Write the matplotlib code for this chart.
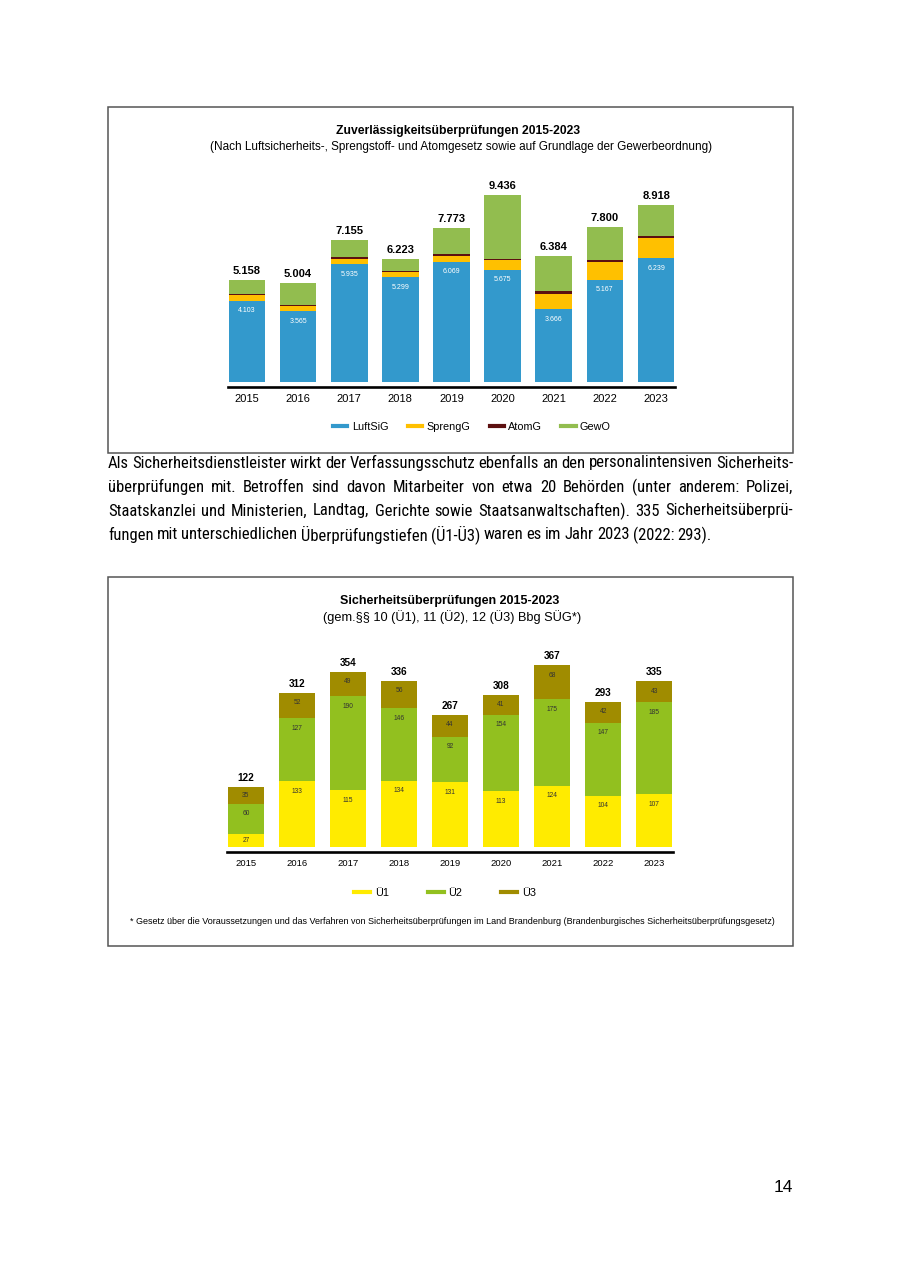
import numpy as np
import matplotlib
matplotlib.use("Agg")
import matplotlib.pyplot as plt
from matplotlib import font_manager as fm
from matplotlib.patches import Rectangle
from matplotlib.lines import Line2D

# --- data: Zuverlässigkeitsüberprüfungen ---
years = ["2015", "2016", "2017", "2018", "2019", "2020", "2021", "2022", "2023"]
luftsig = [4103, 3565, 5935, 5299, 6069, 5675, 3666, 5167, 6239]
sprengg = [300, 250, 290, 235, 300, 470, 775, 893, 1050]
atomg = [50, 50, 90, 80, 80, 80, 150, 100, 90]
totals_z = [5158, 5004, 7155, 6223, 7773, 9436, 6384, 7800, 8918]
gewo = [t - a - b - c for t, a, b, c in zip(totals_z, luftsig, sprengg, atomg)]

# --- data: Sicherheitsüberprüfungen ---
ue1 = [27, 133, 115, 134, 131, 113, 124, 104, 107]
ue2 = [60, 127, 190, 146, 92, 154, 175, 147, 185]
ue3 = [35, 52, 49, 56, 44, 41, 68, 42, 43]
totals_s = [122, 312, 354, 336, 267, 308, 367, 293, 335]

paragraph = [
    "Als Sicherheitsdienstleister wirkt der Verfassungsschutz ebenfalls an den personalintensiven Sicherheits-",
    "überprüfungen mit. Betroffen sind davon Mitarbeiter von etwa 20 Behörden (unter anderem: Polizei,",
    "Staatskanzlei und Ministerien, Landtag, Gerichte sowie Staatsanwaltschaften). 335 Sicherheitsüberprü-",
    "fungen mit unterschiedlichen Überprüfungstiefen (Ü1-Ü3) waren es im Jahr 2023 (2022: 293).",
]

W, H = 900, 1273
plt.rcParams['font.family'] = ['Liberation Sans', 'DejaVu Sans']
fig = plt.figure(figsize=(W / 100, H / 100), dpi=100)
fig.patch.set_facecolor('white')


def fx(x):
    return x / W


def fy(y):
    return 1 - y / H


def px_axes(left, top, right, bottom):
    return fig.add_axes([fx(left), fy(bottom), (right - left) / W, (bottom - top) / H])


def de(v):
    return f"{v:,}".replace(",", ".")


def narrow_font():
    # the body text is set in a narrow sans; take one if any is installed
    for fam in ['Liberation Sans Narrow', 'Arial Narrow', 'Roboto Condensed',
                'Open Sans Condensed', 'Noto Sans Condensed', 'DejaVu Sans Condensed']:
        try:
            fm.findfont(fm.FontProperties(family=fam), fallback_to_default=False)
            return fam, 'normal'
        except ValueError:
            pass
    for fam in ['Noto Sans', 'Open Sans', 'Roboto', 'DejaVu Sans']:
        try:
            f = fm.findfont(fm.FontProperties(family=fam, stretch='condensed'), fallback_to_default=False)
            if 'ondensed' in f or 'Narrow' in f:
                return fam, 'condensed'
        except ValueError:
            pass
    return 'Liberation Sans', 'normal'


# frames around the charts
for top, bot in [(107, 453), (577, 946)]:
    fig.patches.append(Rectangle((fx(107.5), fy(bot)), (793 - 107.5) / W, (bot - top) / H,
                                 transform=fig.transFigure, fill=False,
                                 edgecolor='#555555', linewidth=1.1))

x = np.arange(len(years))
bw = 0.72

# ---------- chart 1 ----------
ax1 = px_axes(228, 174, 675, 387)
c_luft, c_spr, c_atom, c_gew = '#3399CC', '#FFC000', '#5C1010', '#92BD4F'
bottom = np.zeros(len(years))
for vals, col in [(luftsig, c_luft), (sprengg, c_spr), (atomg, c_atom), (gewo, c_gew)]:
    ax1.bar(x, vals, bw, bottom=bottom, color=col, linewidth=0)
    bottom += np.array(vals)
for i in range(len(years)):
    ax1.annotate(de(luftsig[i]), (x[i], luftsig[i]), xytext=(0, -10), textcoords='offset pixels',
                 ha='center', va='center', fontsize=5, color='white')
    ax1.annotate(de(totals_z[i]), (x[i], totals_z[i]), xytext=(0, 9), textcoords='offset pixels',
                 ha='center', va='center', fontsize=8, fontweight='bold', color='black')
ax1.set_xlim(-0.37, 8.37)
ax1.set_ylim(-250, 10500)

# ---------- chart 2 ----------
ax2 = px_axes(227, 649, 673, 852)
c1, c2, c3 = '#FFEB00', '#92C01F', '#A08C00'
bottom = np.zeros(len(years))
for vals, col in [(ue1, c1), (ue2, c2), (ue3, c3)]:
    ax2.bar(x, vals, bw, bottom=bottom, color=col, linewidth=0)
    for i, v in enumerate(vals):
        seg_h_px = v / 2.02
        off = min(10, seg_h_px / 2)
        ax2.annotate(str(v), (x[i], bottom[i] + v), xytext=(0, -off), textcoords='offset pixels',
                     ha='center', va='center', fontsize=4.8, color='#333333')
    bottom += np.array(vals)
for i in range(len(years)):
    ax2.annotate(str(totals_s[i]), (x[i], totals_s[i]), xytext=(0, 9), textcoords='offset pixels',
                 ha='center', va='center', fontsize=7.2, fontweight='bold', color='black')
ax2.set_xlim(-0.37, 8.37)
ax2.set_ylim(-10, 400)

for ax, fs in [(ax1, 8), (ax2, 6.8)]:
    for s in ['top', 'right', 'left']:
        ax.spines[s].set_visible(False)
    ax.spines['bottom'].set_linewidth(1.9)
    ax.spines['bottom'].set_color('black')
    ax.set_yticks([])
    ax.set_xticks(x)
    ax.set_xticklabels(years, fontsize=fs)
    ax.tick_params(axis='x', length=0, pad=5)
    ax.set_facecolor('none')

# titles
fig.text(fx(458), fy(131), "Zuverlässigkeitsüberprüfungen 2015-2023", ha='center', va='center',
         fontsize=8.7, fontweight='bold')
fig.text(fx(461), fy(147), "(Nach Luftsicherheits-, Sprengstoff- und Atomgesetz sowie auf Grundlage der Gewerbeordnung)",
         ha='center', va='center', fontsize=8.5)
fig.text(fx(450), fy(601), "Sicherheitsüberprüfungen 2015-2023", ha='center', va='center',
         fontsize=9.0, fontweight='bold')
fig.text(fx(452), fy(617), "(gem.§§ 10 (Ü1), 11 (Ü2), 12 (Ü3) Bbg SÜG*)", ha='center', va='center', fontsize=9.2)

# legends
h1 = [Line2D([], [], color=c, lw=3) for c in [c_luft, c_spr, c_atom, c_gew]]
fig.legend(h1, ["LuftSiG", "SprengG", "AtomG", "GewO"], loc='center', bbox_to_anchor=(fx(472), fy(427)),
           ncol=4, frameon=False, fontsize=7.8, handlelength=1.3, handletextpad=0.4, columnspacing=1.8)
h2 = [Line2D([], [], color=c, lw=3) for c in [c1, c2, c3]]
fig.legend(h2, ["Ü1", "Ü2", "Ü3"], loc='center', bbox_to_anchor=(fx(445), fy(893)),
           ncol=3, frameon=False, fontsize=7.8, handlelength=1.5, handletextpad=0.4, columnspacing=3.6)

fig.text(fx(452), fy(922), "* Gesetz über die Voraussetzungen und das Verfahren von Sicherheitsüberprüfungen "
         "im Land Brandenburg (Brandenburgisches Sicherheitsüberprüfungsgesetz)",
         ha='center', va='center', fontsize=6.5)

# justified paragraph
para_fam, para_stretch = narrow_font()
renderer = fig.canvas.get_renderer()
left_px, right_px = 108, 793


def line_words(line, size):
    ts = [fig.text(0, 0, w, ha='left', va='center', fontsize=size,
                   family=[para_fam, 'DejaVu Sans'], fontstretch=para_stretch) for w in line.split(' ')]
    return ts, [t.get_window_extent(renderer).width for t in ts]


size = 12.5
while True:
    fits = True
    for line in paragraph[:-1]:
        ts, ws = line_words(line, size)
        for t in ts:
            t.remove()
        if sum(ws) + 3.0 * (len(ws) - 1) > right_px - left_px:
            fits = False
    if fits or size < 8:
        break
    size -= 0.1

space_w = None
for li, line in enumerate(paragraph):
    y = fy(463 + li * 24)
    texts, widths = line_words(line, size)
    if li < len(paragraph) - 1:
        gap = (right_px - left_px - sum(widths)) / (len(texts) - 1)
        space_w = gap if space_w is None else min(space_w, gap)
    else:
        gap = min(space_w, 5.0)
    pos = left_px
    for t, wdt in zip(texts, widths):
        t.set_position((fx(pos), y))
        pos += wdt + gap

fig.text(fx(793), fy(1187), "14", ha='right', va='center', fontsize=12.5)

fig.savefig("out.png", dpi=100, facecolor='white')
